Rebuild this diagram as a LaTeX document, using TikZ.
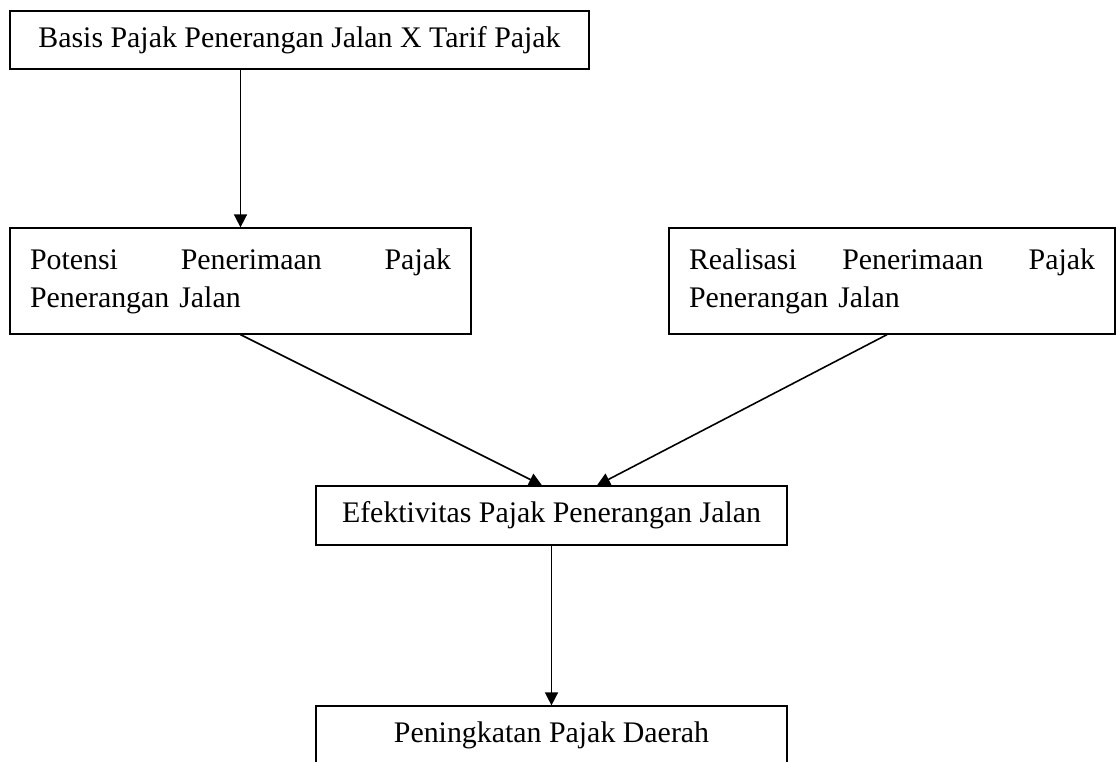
\documentclass[tikz,border=0pt]{standalone}
\usepackage{fontspec}
\setmainfont{Liberation Serif}
\usetikzlibrary{arrows.meta}
\begin{document}
\begin{tikzpicture}[
        node distance=4.82cm,
        box/.style={rectangle, draw, line width=1pt, minimum height=1.17cm, align=center, font=\fontsize{17}{21.6}\selectfont},
        tallbox/.style={box, minimum height=2.11cm, align=left, inner xsep=0.4cm},
        arrow/.style={-{Triangle[length=0.26cm, width=0.26cm]}, line width=0.9pt}
    ]
    \useasboundingbox (0,0) rectangle (22.34,-15.24);
    
    \node[box, minimum width=11.58cm] (basis) at (5.99,-0.8) {Basis Pajak Penerangan Jalan X Tarif Pajak};
    \node[tallbox, below of=basis, xshift=-1.18cm, minimum width=9.22cm, text width=8.42cm] (potensi) {Potensi\hfill Penerimaan\hfill Pajak\\Penerangan Jalan};
    \node[tallbox, right of=potensi, xshift=8.21cm, minimum width=8.92cm, text width=8.12cm] (realisasi) {Realisasi\hfill Penerimaan\hfill Pajak\\Penerangan Jalan};
    \node[box, below of=potensi, xshift=6.22cm, yshift=0.13cm, minimum width=9.42cm] (efektivitas) {Efektivitas Pajak Penerangan Jalan};
    \node[box, below of=efektivitas, yshift=0.42cm, minimum width=9.42cm] (peningkatan) {Peningkatan Pajak Daerah};
    
    \draw[arrow] (basis.south -| potensi.north) -- (potensi.north);
    \draw[arrow] (potensi.south) -- ([xshift=-0.19cm]efektivitas.north);
    \draw[arrow] ([xshift=-0.1cm]realisasi.south) -- ([xshift=0.91cm]efektivitas.north);
    \draw[arrow] (efektivitas.south) -- (peningkatan.north);
    
    \end{tikzpicture}
\end{document}
